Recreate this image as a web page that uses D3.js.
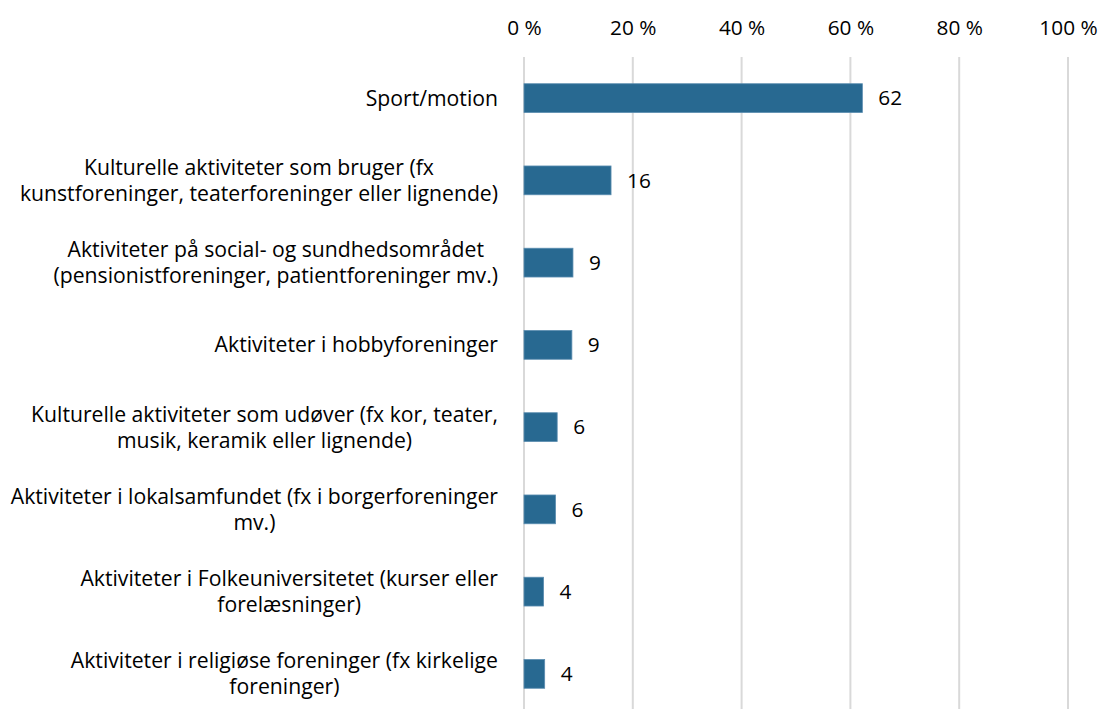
<!DOCTYPE html>
<html>
<head>
<meta charset="utf-8">
<script src="https://cdn.jsdelivr.net/npm/d3@7"></script>
<style>
    body { margin: 0; background: #fff; }
    text { font-family: "Open Sans", "Liberation Sans", sans-serif; fill: #000; }
    .grid line { stroke: #d9d9d9; stroke-width: 2; }
</style>
</head>
<body>
<svg id="chart" width="1100" height="709"></svg>
<script>
// category labels, already broken into lines like the original
let categories = [
    ["Sport/motion"],
    ["Kulturelle aktiviteter som bruger (fx", "kunstforeninger, teaterforeninger eller lignende)"],
    ["Aktiviteter på social- og sundhedsområdet", "(pensionistforeninger, patientforeninger mv.)"],
    ["Aktiviteter i hobbyforeninger"],
    ["Kulturelle aktiviteter som udøver (fx kor, teater,", "musik, keramik eller lignende)"],
    ["Aktiviteter i lokalsamfundet (fx i borgerforeninger", "mv.)"],
    ["Aktiviteter i Folkeuniversitetet (kurser eller", "forelæsninger)"],
    ["Aktiviteter i religiøse foreninger (fx kirkelige", "foreninger)"]
];
let values = [62.2, 16.0, 9.0, 8.8, 6.1, 5.8, 3.6, 3.8];
let ticks = [0, 20, 40, 60, 80, 100];

let margin = { left: 524, right: 32, top: 57, bottom: -6 };
let w = 1100, h = 709;
let fontSize = "21.2px";
let tickFont = "20.8px";

let svg = d3.select("#chart");

let xScale = d3.scaleLinear()
    .domain([0, 100])
    .range([margin.left, w - margin.right]);

let yScale = d3.scaleBand()
    .domain(d3.range(categories.length))
    .range([margin.top, h - margin.bottom])
    .paddingInner(0.65)
    .paddingOuter(0.325);

// vertical grid lines
svg.append("g")
    .attr("class", "grid")
    .selectAll("line")
    .data(ticks)
    .enter()
    .append("line")
    .attr("x1", (d) => xScale(d))
    .attr("x2", (d) => xScale(d))
    .attr("y1", margin.top)
    .attr("y2", h);

// top axis, labels only
let xAxis = d3.axisTop(xScale)
    .tickValues(ticks)
    .tickSize(0)
    .tickPadding(0)
    .tickFormat((d) => d + " %");

svg.append("g")
    .attr("class", "x axis")
    .attr("transform", "translate(0, 35)")
    .call(xAxis)
    .call((g) => g.select(".domain").remove())
    .selectAll("text")
    .style("font-family", "'Open Sans', 'Liberation Sans', sans-serif")
    .style("font-size", tickFont)
    .attr("fill", "#000");

// bars
svg.append("g")
    .selectAll("rect")
    .data(values)
    .enter()
    .append("rect")
    .attr("x", xScale(0))
    .attr("y", (d, i) => yScale(i))
    .attr("width", (d) => xScale(d) - xScale(0))
    .attr("height", yScale.bandwidth())
    .attr("fill", "#286991")
    .attr("stroke", "#5b8db0")
    .attr("stroke-width", 0.8);

// value labels
svg.append("g")
    .selectAll("text")
    .data(values)
    .enter()
    .append("text")
    .attr("x", (d) => xScale(d) + 16)
    .attr("y", (d, i) => yScale(i) + yScale.bandwidth() / 2)
    .attr("dy", "0.35em")
    .style("font-size", tickFont)
    .text((d) => Math.round(d));

// category labels: one text per category, lines as tspans,
// centred in a block that is right-aligned to the axis
let lineH = 26;
let labels = svg.append("g")
    .selectAll("text")
    .data(categories)
    .enter()
    .append("text")
    .style("font-size", fontSize)
    .attr("text-anchor", "middle")
    .attr("y", (d, i) => yScale(i) + yScale.bandwidth() / 2);

labels.each(function (lines, i) {
    let t = d3.select(this);
    let cy = yScale(i) + yScale.bandwidth() / 2;
    let spans = t.selectAll("tspan")
        .data(lines)
        .enter()
        .append("tspan")
        .attr("y", (d, j) => cy + (j - (lines.length - 1) / 2) * lineH)
        .attr("dy", "0.35em")
        .text((d) => d);
    let maxW = d3.max(spans.nodes(), (n) => n.getComputedTextLength());
    spans.attr("x", 498 - maxW / 2);
});
</script>
</body>
</html>
